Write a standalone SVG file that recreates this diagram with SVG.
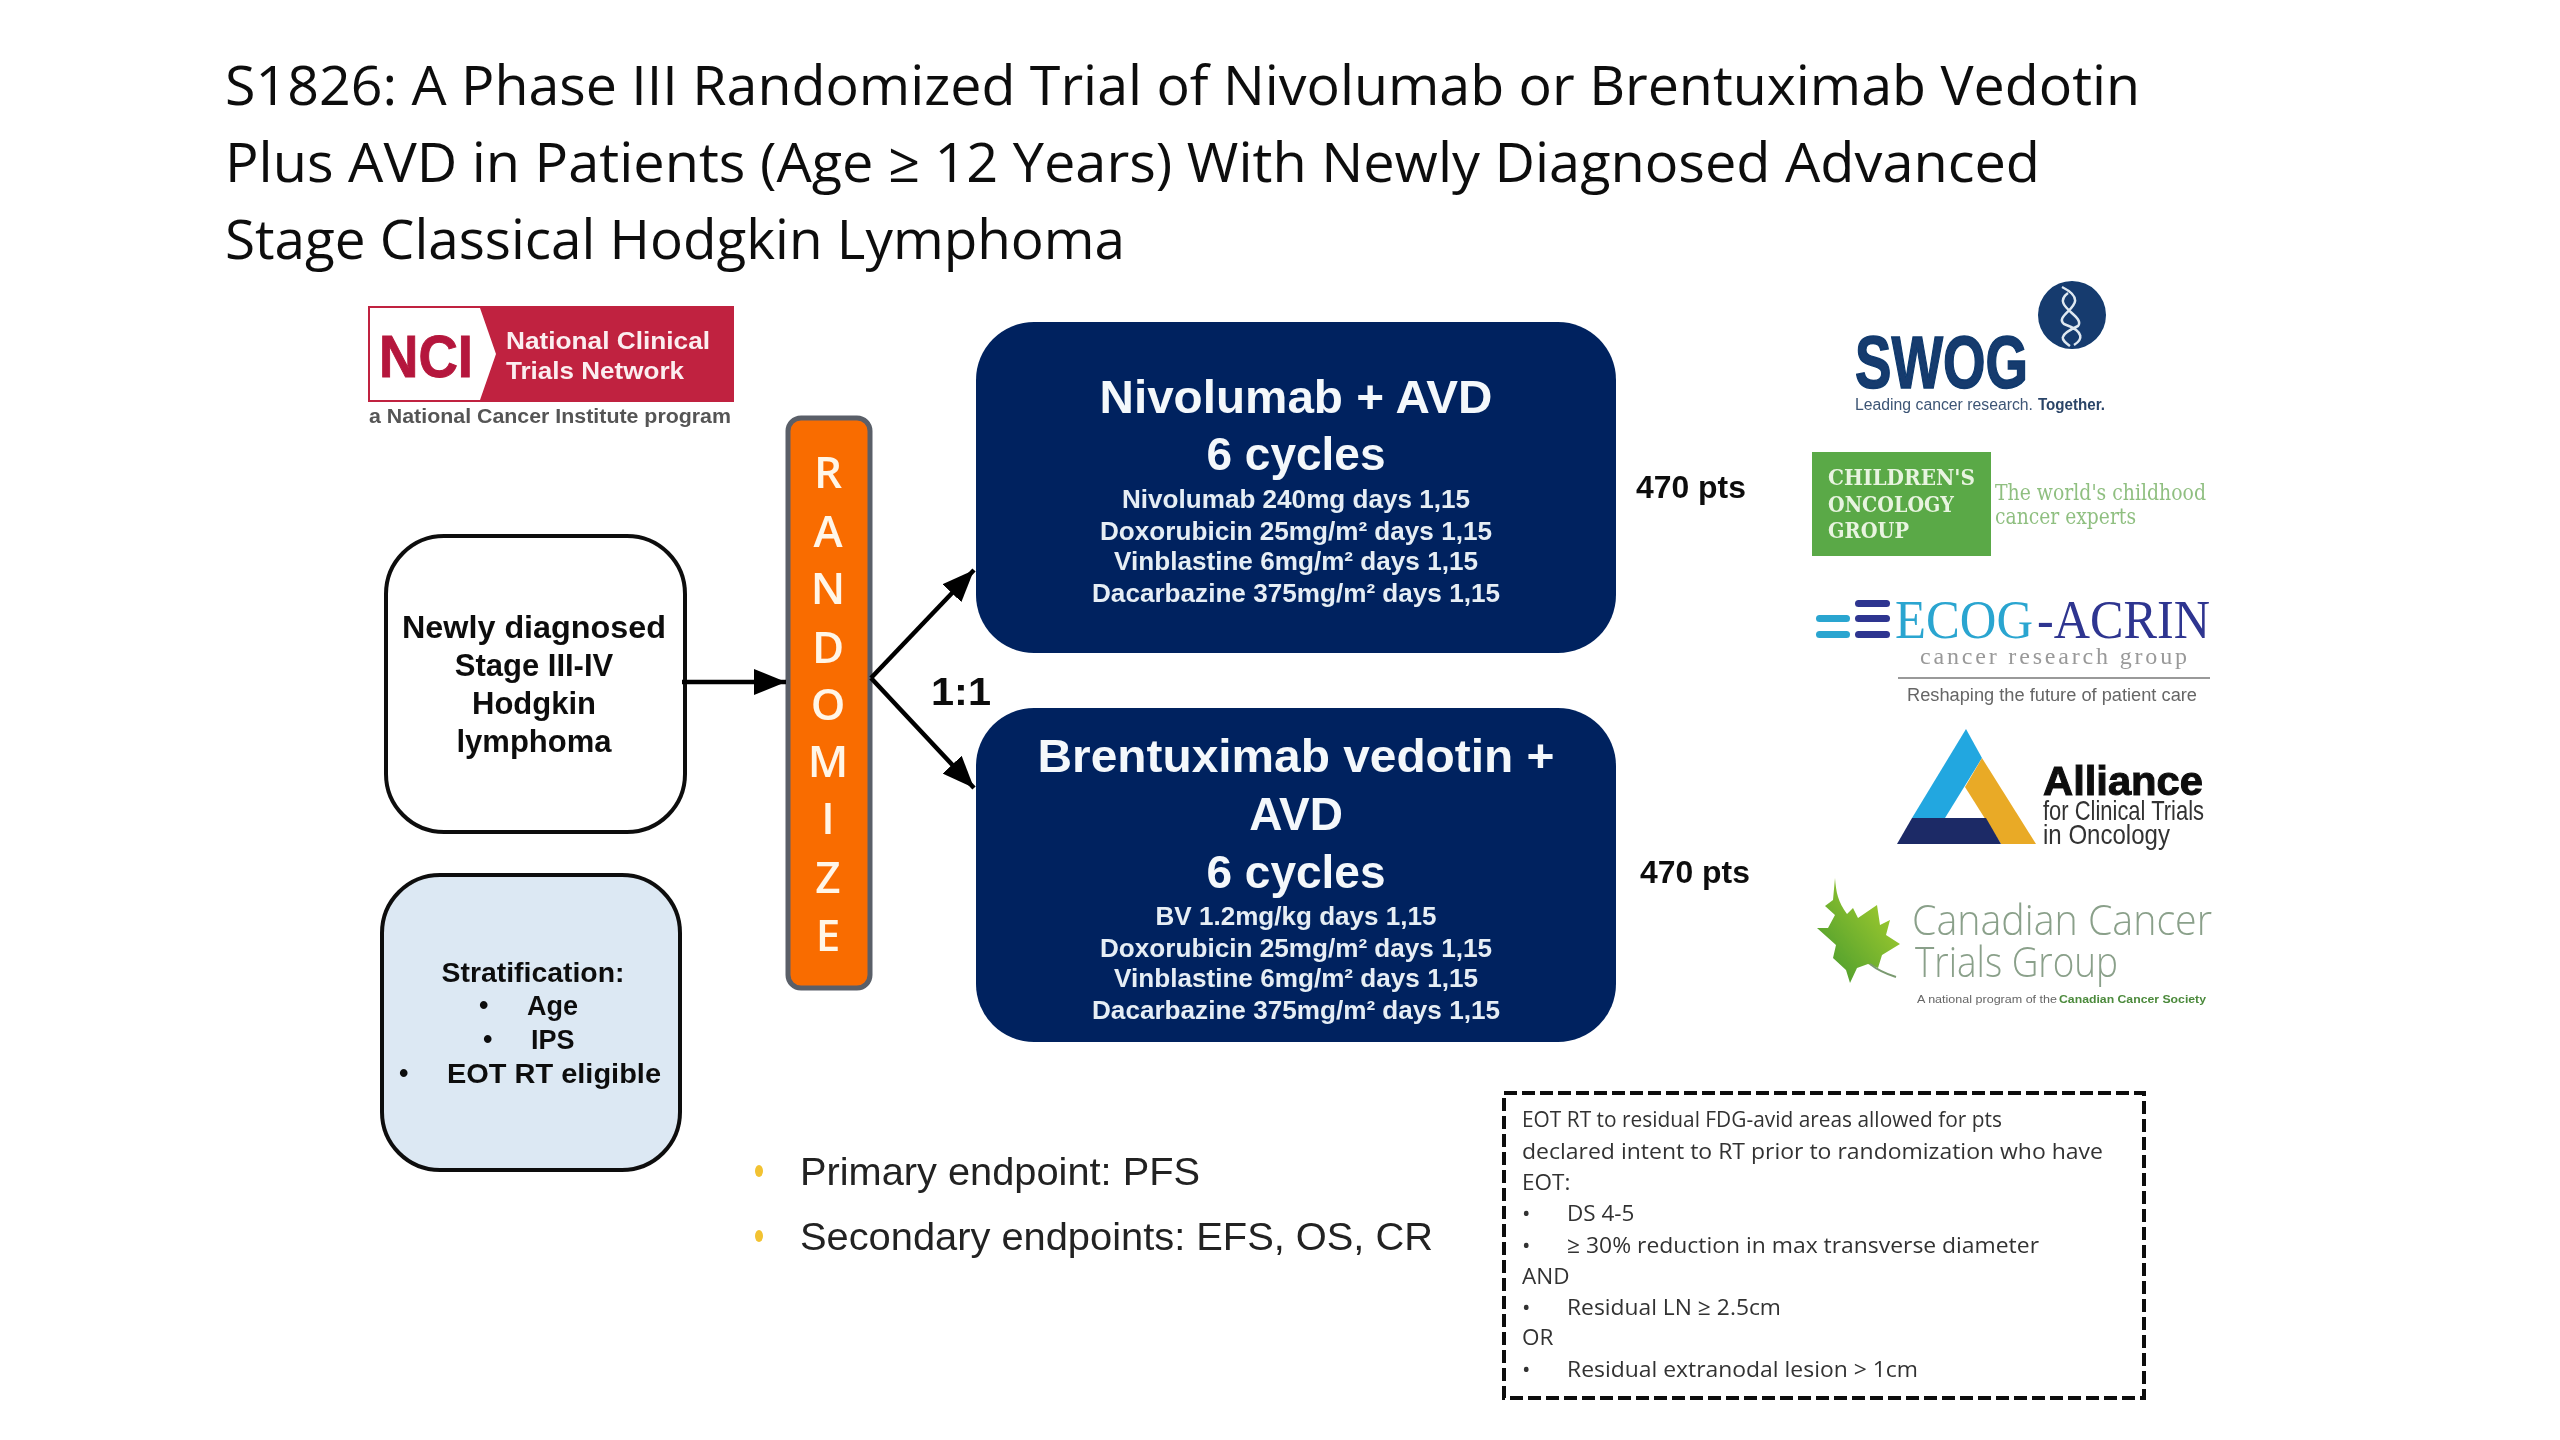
<svg xmlns="http://www.w3.org/2000/svg" width="2560" height="1440" viewBox="0 0 2560 1440">
<defs>
<marker id="ah" markerUnits="userSpaceOnUse" markerWidth="34" markerHeight="26" refX="32" refY="13" orient="auto"><path d="M0 0L32 13L0 26Z" fill="#000"/></marker>
<linearGradient id="leaf" x1="1" y1="0" x2="0" y2="1"><stop offset="0" stop-color="#b5d62f"/><stop offset="1" stop-color="#3f962f"/></linearGradient>
<filter id="soft" x="-2%" y="-2%" width="104%" height="104%"><feGaussianBlur stdDeviation="0.7"/></filter>
</defs>
<style>
text{font-family:"Liberation Sans",Arial,sans-serif}
.title{font-family:"Open Sans","Noto Sans",sans-serif;font-size:55px;fill:#111}
.arm{fill:#03245f}
.armh{font-size:46px;font-weight:700;fill:#f4f8fb;text-anchor:middle}
.armd{font-size:26px;font-weight:700;fill:#e6eef5;text-anchor:middle}
.lab{font-size:31px;font-weight:700;fill:#111;text-anchor:middle}
.str{font-size:27px;font-weight:700;fill:#111}
.rnd{font-family:"Open Sans",sans-serif;font-size:44px;font-weight:600;fill:#fff6e8;text-anchor:middle}
.end{font-size:39px;fill:#222}
.note{font-family:"Open Sans","Noto Sans",sans-serif;font-size:22.5px;fill:#333}
.conn{stroke:#000;stroke-width:4.5;fill:none;marker-end:url(#ah)}
</style>
<rect width="2560" height="1440" fill="#fff"/>
<g filter="url(#soft)">
<g id="title">
<text class="title" x="225" y="105" textLength="1915" lengthAdjust="spacingAndGlyphs">S1826: A Phase III Randomized Trial of Nivolumab or Brentuximab Vedotin</text>
<text class="title" x="225" y="182" textLength="1815" lengthAdjust="spacingAndGlyphs">Plus AVD in Patients (Age ≥ 12 Years) With Newly Diagnosed Advanced</text>
<text class="title" x="225" y="259" textLength="900" lengthAdjust="spacingAndGlyphs">Stage Classical Hodgkin Lymphoma</text>
</g>
<g id="logo-nci">
<rect x="368" y="306" width="366" height="96" fill="#c0203f"/>
<path d="M370 308H480L496 354L480 400H370Z" fill="#fff"/>
<text x="379" y="377" font-size="60" font-weight="700" fill="#b5193c" stroke="#b5193c" textLength="94" lengthAdjust="spacingAndGlyphs">NCI</text>
<text x="506" y="349" font-size="24" font-weight="700" fill="#fbeef0" textLength="204" lengthAdjust="spacingAndGlyphs">National Clinical</text>
<text x="506" y="379" font-size="24" font-weight="700" fill="#fbeef0" textLength="178" lengthAdjust="spacingAndGlyphs">Trials Network</text>
<text x="369" y="423" font-size="20" font-weight="700" fill="#555" textLength="362" lengthAdjust="spacingAndGlyphs">a National Cancer Institute program</text>
</g>
<g id="node-diagnosis">
<rect x="386" y="536" width="299" height="296" rx="58" fill="#fff" stroke="#111" stroke-width="4"/>
<text class="lab" x="534" y="638" textLength="264" lengthAdjust="spacingAndGlyphs">Newly diagnosed</text>
<text class="lab" x="534" y="676">Stage III-IV</text>
<text class="lab" x="534" y="714">Hodgkin</text>
<text class="lab" x="534" y="752">lymphoma</text>
</g>
<g id="node-stratification">
<rect x="382" y="875" width="298" height="295" rx="58" fill="#dce8f3" stroke="#111" stroke-width="4"/>
<text class="str" x="533" y="982" text-anchor="middle" textLength="183" lengthAdjust="spacingAndGlyphs">Stratification:</text>
<text class="str" x="479" y="1014">•</text><text class="str" x="527" y="1015">Age</text>
<text class="str" x="483" y="1048">•</text><text class="str" x="531" y="1049">IPS</text>
<text class="str" x="399" y="1082">•</text><text class="str" x="447" y="1083" textLength="214" lengthAdjust="spacingAndGlyphs">EOT RT eligible</text>
</g>
<g id="node-randomize">
<rect x="788" y="418" width="82" height="570" rx="13" fill="#f96c06" stroke="#5a5f68" stroke-width="5"/>
<text class="rnd" x="828" y="488">R</text>
<text class="rnd" x="828" y="547">A</text>
<text class="rnd" x="828" y="604">N</text>
<text class="rnd" x="828" y="663">D</text>
<text class="rnd" x="828" y="720">O</text>
<text class="rnd" x="828" y="777">M</text>
<text class="rnd" x="828" y="834">I</text>
<text class="rnd" x="828" y="893">Z</text>
<text class="rnd" x="828" y="951">E</text>
</g>
<g id="node-nivolumab">
<rect class="arm" x="976" y="322" width="640" height="331" rx="58"/>
<text class="armh" x="1296" y="413" textLength="393" lengthAdjust="spacingAndGlyphs">Nivolumab + AVD</text>
<text class="armh" x="1296" y="470">6 cycles</text>
<text class="armd" x="1296" y="508" textLength="348" lengthAdjust="spacingAndGlyphs">Nivolumab 240mg days 1,15</text>
<text class="armd" x="1296" y="540" textLength="392" lengthAdjust="spacingAndGlyphs">Doxorubicin 25mg/m² days 1,15</text>
<text class="armd" x="1296" y="570" textLength="364" lengthAdjust="spacingAndGlyphs">Vinblastine 6mg/m² days 1,15</text>
<text class="armd" x="1296" y="602" textLength="408" lengthAdjust="spacingAndGlyphs">Dacarbazine 375mg/m² days 1,15</text>
</g>
<g id="node-brentuximab">
<rect class="arm" x="976" y="708" width="640" height="334" rx="58"/>
<text class="armh" x="1296" y="772" textLength="517" lengthAdjust="spacingAndGlyphs">Brentuximab vedotin +</text>
<text class="armh" x="1296" y="830">AVD</text>
<text class="armh" x="1296" y="888">6 cycles</text>
<text class="armd" x="1296" y="925" textLength="281" lengthAdjust="spacingAndGlyphs">BV 1.2mg/kg days 1,15</text>
<text class="armd" x="1296" y="957" textLength="392" lengthAdjust="spacingAndGlyphs">Doxorubicin 25mg/m² days 1,15</text>
<text class="armd" x="1296" y="987" textLength="364" lengthAdjust="spacingAndGlyphs">Vinblastine 6mg/m² days 1,15</text>
<text class="armd" x="1296" y="1019" textLength="408" lengthAdjust="spacingAndGlyphs">Dacarbazine 375mg/m² days 1,15</text>
</g>
<g id="connectors">
<path class="conn" d="M682 682H786"/>
<path class="conn" d="M871 678L974 570"/>
<path class="conn" d="M871 678L974 788"/>
</g>
<g id="labels">
<text x="931" y="705" font-size="38" font-weight="700" fill="#111" textLength="60" lengthAdjust="spacingAndGlyphs">1:1</text>
<text x="1636" y="498" font-size="31" font-weight="700" fill="#111" textLength="110" lengthAdjust="spacingAndGlyphs">470 pts</text>
<text x="1640" y="883" font-size="31" font-weight="700" fill="#111" textLength="110" lengthAdjust="spacingAndGlyphs">470 pts</text>
</g>
<g id="endpoints">
<ellipse cx="759" cy="1171" rx="4" ry="6" fill="#f2c230"/>
<text class="end" x="800" y="1185" textLength="400" lengthAdjust="spacingAndGlyphs">Primary endpoint: PFS</text>
<ellipse cx="759" cy="1236" rx="4" ry="6" fill="#f2c230"/>
<text class="end" x="800" y="1250" textLength="633" lengthAdjust="spacingAndGlyphs">Secondary endpoints: EFS, OS, CR</text>
</g>
<g id="note-eot">
<rect x="1504" y="1093" width="640" height="305" fill="#fff" stroke="#111" stroke-width="4" stroke-dasharray="13 5"/>
<text class="note" x="1522" y="1127" textLength="480" lengthAdjust="spacingAndGlyphs">EOT RT to residual FDG-avid areas allowed for pts</text>
<text class="note" x="1522" y="1159" textLength="581" lengthAdjust="spacingAndGlyphs">declared intent to RT prior to randomization who have</text>
<text class="note" x="1522" y="1190">EOT:</text>
<text class="note" x="1522" y="1221">•</text><text class="note" x="1567" y="1221">DS 4-5</text>
<text class="note" x="1522" y="1253">•</text><text class="note" x="1567" y="1253" textLength="472" lengthAdjust="spacingAndGlyphs">≥ 30% reduction in max transverse diameter</text>
<text class="note" x="1522" y="1284">AND</text>
<text class="note" x="1522" y="1315">•</text><text class="note" x="1567" y="1315" textLength="214" lengthAdjust="spacingAndGlyphs">Residual LN ≥ 2.5cm</text>
<text class="note" x="1522" y="1345">OR</text>
<text class="note" x="1522" y="1377">•</text><text class="note" x="1567" y="1377" textLength="351" lengthAdjust="spacingAndGlyphs">Residual extranodal lesion &gt; 1cm</text>
</g>
<g id="logo-swog">
<circle cx="2072" cy="315" r="34" fill="#123a6e"/>
<path d="M2062 287C2096 304 2052 314 2064 324C2086 332 2082 340 2074 345M2068 293C2050 306 2086 316 2078 326C2056 336 2062 340 2070 346" fill="none" stroke="#dfe8f0" stroke-width="2.5"/>
<text><tspan x="1855" y="388" font-size="74" font-weight="700" fill="#123a6e" stroke="#123a6e" stroke-width="1.5" textLength="173" lengthAdjust="spacingAndGlyphs">SWOG</tspan><tspan x="1855" y="410" font-size="16" fill="#3d5575" textLength="178" lengthAdjust="spacingAndGlyphs">Leading cancer research.</tspan><tspan x="2038" y="410" font-size="16" font-weight="700" fill="#2b4468" textLength="67" lengthAdjust="spacingAndGlyphs">Together.</tspan></text>
</g>
<g id="logo-cog">
<rect x="1812" y="452" width="179" height="104" fill="#5aa946"/>
<text x="1828" y="485" font-size="22" font-weight="700" fill="#e8f4e0" style="font-family:'DejaVu Serif',serif" textLength="147" lengthAdjust="spacingAndGlyphs">CHILDREN'S</text>
<text x="1828" y="512" font-size="22" font-weight="700" fill="#e8f4e0" style="font-family:'DejaVu Serif',serif" textLength="126" lengthAdjust="spacingAndGlyphs">ONCOLOGY</text>
<text x="1828" y="538" font-size="22" font-weight="700" fill="#e8f4e0" style="font-family:'DejaVu Serif',serif" textLength="81" lengthAdjust="spacingAndGlyphs">GROUP</text>
<text x="1995" y="500" font-size="22" fill="#8fbf80" style="font-family:'DejaVu Serif',serif" textLength="211" lengthAdjust="spacingAndGlyphs">The world's childhood</text>
<text x="1995" y="524" font-size="22" fill="#8fbf80" style="font-family:'DejaVu Serif',serif" textLength="141" lengthAdjust="spacingAndGlyphs">cancer experts</text>
</g>
<g id="logo-ecog">
<rect x="1816" y="615" width="34" height="7" rx="3.5" fill="#2aa5d0"/>
<rect x="1816" y="631" width="34" height="7" rx="3.5" fill="#2aa5d0"/>
<rect x="1855" y="600" width="35" height="7" rx="3.5" fill="#2f3590"/>
<rect x="1855" y="615" width="35" height="7" rx="3.5" fill="#2f3590"/>
<rect x="1855" y="631" width="35" height="7" rx="3.5" fill="#2f3590"/>
<text x="1895" y="638" font-size="55" fill="#2aa5d0" style="font-family:'Liberation Serif',serif" textLength="138" lengthAdjust="spacingAndGlyphs">ECOG</text>
<text x="2037" y="638" font-size="55" fill="#2f3590" style="font-family:'Liberation Serif',serif" textLength="173" lengthAdjust="spacingAndGlyphs">-ACRIN</text>
<text x="1920" y="664" font-size="24" fill="#999" style="font-family:'Liberation Serif',serif" textLength="267" lengthAdjust="spacing">cancer research group</text>
<line x1="1898" y1="678" x2="2210" y2="678" stroke="#999" stroke-width="2"/>
<text x="1907" y="701" font-size="18" fill="#666" textLength="290" lengthAdjust="spacingAndGlyphs">Reshaping the future of patient care</text>
</g>
<g id="logo-alliance">
<polygon points="1966,729 1982,758 1945,818 1912,818" fill="#22a7e0"/>
<polygon points="1982,758 2036,844 2001,844 1965,787" fill="#e9aa27"/>
<polygon points="1912,818 1986,818 2001,844 1897,844" fill="#1b2a66"/>
<text><tspan x="2043" y="795" font-size="40" font-weight="700" fill="#111" stroke="#111" textLength="160" lengthAdjust="spacingAndGlyphs">Alliance</tspan><tspan x="2043" y="820" font-size="28" fill="#333" textLength="161" lengthAdjust="spacingAndGlyphs">for Clinical Trials</tspan><tspan x="2043" y="844" font-size="28" fill="#333" textLength="127" lengthAdjust="spacingAndGlyphs">in Oncology</tspan></text>
</g>
<g id="logo-cctg">
<path d="M1835 878C1836 892 1838 902 1847 914L1853 908L1858 918L1877 905L1880 925L1890 920L1886 935L1900 944L1882 955L1878 968L1868 964L1857 968L1850 983L1846 970L1833 958L1836 945L1817 928L1828 928L1835 915L1825 906L1833 900Z" fill="url(#leaf)"/>
<path d="M1870 964Q1880 972 1896 977" fill="none" stroke="#7a9a70" stroke-width="2"/>
<text><tspan x="1912" y="935" font-size="42" fill="#8aa08a" style="font-family:'Open Sans',sans-serif;font-weight:300" textLength="300" lengthAdjust="spacingAndGlyphs">Canadian Cancer</tspan><tspan x="1915" y="977" font-size="42" fill="#8aa08a" style="font-family:'Open Sans',sans-serif;font-weight:300" textLength="203" lengthAdjust="spacingAndGlyphs">Trials Group</tspan><tspan x="1917" y="1003" font-size="11.5" fill="#666" textLength="140" lengthAdjust="spacingAndGlyphs">A national program of the</tspan><tspan x="2059" y="1003" font-size="11.5" font-weight="700" fill="#4c8a3c" textLength="147" lengthAdjust="spacingAndGlyphs">Canadian Cancer Society</tspan></text>
</g>
</g>
</svg>
